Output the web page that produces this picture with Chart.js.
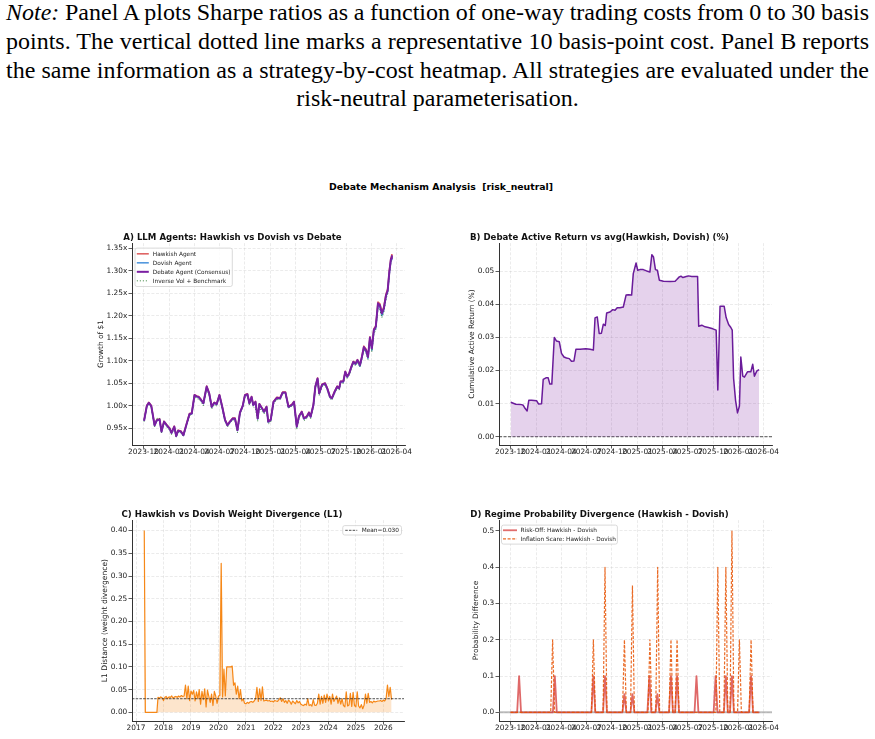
<!DOCTYPE html>
<html><head><meta charset="utf-8">
<script src="https://cdn.jsdelivr.net/npm/chart.js@4.4.1/dist/chart.umd.min.js"></script>
<style>
html,body{margin:0;padding:0;background:#fff;overflow:hidden;width:875px;height:739px;}
.nl{position:absolute;white-space:nowrap;line-height:29px;height:29px;font-family:'Liberation Serif','Times New Roman','DejaVu Serif','Noto Serif',serif;font-size:24px;color:#000;}
#sup{position:absolute;left:0;width:882px;top:181px;text-align:center;font:bold 9.3px "DejaVu Sans",sans-serif;white-space:pre;color:#000;line-height:12px;}
canvas{position:absolute;}
</style></head>
<body>
<span class="nl" id="n1" style="left:6px;top:-2px"><i>Note:</i> Panel A plots Sharpe ratios as a function of one-way trading costs from 0 to 30 basis</span>
<span class="nl" id="n2" style="left:6px;top:27px">points. The vertical dotted line marks a representative 10 basis-point cost. Panel B reports</span>
<span class="nl" id="n3" style="left:6px;top:56px">the same information as a strategy-by-cost heatmap. All strategies are evaluated under the</span>
<span class="nl" id="n4" style="left:0;width:875px;text-align:center;top:84px">risk-neutral parameterisation.</span>
<div id="sup">Debate Mechanism Analysis  [risk_neutral]</div>
<canvas id="cA" width="417" height="248" style="left:60px;top:227px"></canvas>
<canvas id="cB" width="417" height="248" style="left:427px;top:227px"></canvas>
<canvas id="cC" width="416" height="235" style="left:60px;top:504px"></canvas>
<canvas id="cD" width="417" height="235" style="left:427px;top:504px"></canvas>
<script>
// ---------------- DATA ----------------
const quarterTickDays = [0,92,183,274,366,458,548,639,731,823,913]; // days since 2023-10-01
const quarterTickLabels = ['2023-10','2024-01','2024-04','2024-07','2024-10','2025-01','2025-04','2025-07','2025-10','2026-01','2026-04'];
const yearTicks = [2017,2018,2019,2020,2021,2022,2023,2024,2025,2026];
const growthTicks = [0.95,1.00,1.05,1.10,1.15,1.20,1.25,1.30,1.35];
const activeTicks = [0,0.01,0.02,0.03,0.04,0.05];
const l1Ticks = [0,0.05,0.10,0.15,0.20,0.25,0.30,0.35,0.40];
const probTicks = [0,0.1,0.2,0.3,0.4,0.5];

// Panel A
const aDays = [2,12,19,28,40,48,58,65,74,84, 94,101,111,118,125,135,144,156,166,174,
 184,192,199,208,216,228,237,246,255,264, 274,284,294,303,312,322,330,339,348,358,
 366,375,382,390,396,404,412,418,428,435, 444,450,459,469,481,493,502,512,523,535,
 543,553,561,571,579,589,597,603,613,620, 628,634,644,655,663,673,680,690,699,706,
 711,721,728,735,742,750,757,765,772,781, 788,795,803,810,817,824,831,838,846,853,
 860,867,875,881,887,893,896];
const hawkish = [0.968,1.001,1.008,1.001,0.958,0.969,0.971,0.944,0.966,0.958,
 0.951,0.941,0.955,0.934,0.946,0.944,0.936,0.962,0.983,0.984,
 1.025,1.022,1.021,1.014,1.007,1.044,1.029,0.999,1.008,1.005,
 1.025,0.999,0.970,0.958,0.966,0.973,0.973,0.947,0.986,1.001,
 1.025,1.027,1.007,1.021,1.003,1.010,0.973,1.005,0.995,0.988,
 0.999,0.966,0.970,1.010,1.019,1.018,1.031,1.031,0.999,1.003,
 1.010,0.955,0.978,0.988,0.973,0.977,0.986,0.977,1.003,1.044,
 1.062,1.029,1.048,1.051,1.040,1.021,1.018,1.033,1.044,1.040,
 1.055,1.055,1.077,1.066,1.073,1.088,1.099,1.095,1.103,1.092,
 1.110,1.133,1.126,1.111,1.154,1.130,1.171,1.178,1.231,1.227,
 1.209,1.220,1.249,1.260,1.301,1.331,1.338];
const dovish = [0.966,0.999,1.006,0.999,0.956,0.967,0.969,0.942,0.964,0.956,
 0.949,0.939,0.953,0.932,0.944,0.942,0.934,0.960,0.981,0.982,
 1.023,1.020,1.019,1.012,1.005,1.042,1.027,0.997,1.006,1.003,
 1.023,0.997,0.968,0.956,0.964,0.971,0.971,0.945,0.984,0.999,
 1.023,1.025,1.005,1.019,1.001,1.008,0.971,1.003,0.993,0.986,
 0.997,0.964,0.968,1.008,1.017,1.016,1.029,1.029,0.997,1.001,
 1.008,0.953,0.976,0.986,0.971,0.975,0.984,0.975,1.001,1.042,
 1.060,1.027,1.046,1.049,1.038,1.019,1.016,1.031,1.042,1.038,
 1.053,1.053,1.075,1.064,1.071,1.086,1.097,1.092,1.100,1.088,
 1.107,1.128,1.121,1.106,1.149,1.124,1.166,1.173,1.224,1.220,
 1.201,1.213,1.243,1.254,1.295,1.325,1.332];
const debate = [0.967,1.000,1.007,1.000,0.957,0.968,0.970,0.943,0.965,0.957,
 0.950,0.940,0.954,0.933,0.945,0.943,0.935,0.961,0.982,0.983,
 1.024,1.021,1.020,1.013,1.006,1.043,1.028,0.998,1.007,1.004,
 1.024,0.998,0.969,0.957,0.965,0.972,0.972,0.946,0.985,1.000,
 1.024,1.026,1.006,1.020,1.002,1.009,0.972,1.004,0.994,0.987,
 0.998,0.965,0.969,1.009,1.018,1.017,1.030,1.030,0.998,1.002,
 1.009,0.954,0.977,0.987,0.972,0.976,0.985,0.976,1.002,1.043,
 1.061,1.028,1.047,1.050,1.039,1.020,1.017,1.032,1.043,1.039,
 1.054,1.054,1.076,1.065,1.072,1.087,1.098,1.094,1.102,1.091,
 1.109,1.131,1.124,1.109,1.152,1.128,1.169,1.176,1.228,1.224,
 1.206,1.217,1.246,1.257,1.298,1.328,1.335];
const benchmark = [0.965,0.998,1.004,0.997,0.953,0.972,0.973,0.940,0.962,0.953,
 0.946,0.936,0.950,0.930,0.941,0.940,0.932,0.958,0.979,0.980,
 1.020,1.016,1.015,1.009,1.000,1.038,1.023,0.993,1.002,1.000,
 1.020,0.994,0.965,0.953,0.962,0.969,0.969,0.940,0.981,0.997,
 1.020,1.022,1.002,1.015,0.998,0.993,0.966,0.995,0.988,0.982,
 0.993,0.960,0.964,1.004,1.014,1.014,1.027,1.027,0.995,0.999,
 1.005,0.948,0.972,0.983,0.967,0.972,0.981,0.972,0.998,1.038,
 1.056,1.023,1.043,1.046,1.035,1.016,1.013,1.028,1.039,1.035,
 1.050,1.050,1.071,1.061,1.068,1.082,1.094,1.089,1.097,1.086,
 1.104,1.125,1.118,1.103,1.145,1.120,1.160,1.168,1.218,1.213,
 1.196,1.208,1.238,1.250,1.290,1.320,1.328];

// Panel B
const bDays = [1,10,19,40,46,53,60,66,76,94, 101,112,118,128,136,142,149,158,166,176,
 184,193,202,212,220,229,236,251,272,287, 299,305,313,320,328,335,342,347,359,369,
 377,385,395,407,417,425,437,443,453,459, 467,479,491,503,510,516,523,530,537,552,
 576,594,600,609,615,622,634,642,654,675, 679,690,702,714,730,742,748,756,771,778,
 787,795,800,805,812,819,826,831,838,844, 855,867,874,880,889,897];
const activeReturn = [0.0104,0.0101,0.0098,0.0097,0.0095,0.0085,0.0078,0.0110,0.0110,0.0109,
 0.0099,0.0100,0.0173,0.0178,0.0178,0.0159,0.0159,0.0300,0.0289,0.0287,
 0.0252,0.0241,0.0238,0.0236,0.0228,0.0229,0.0264,0.0264,0.0266,0.0264,
 0.0262,0.0359,0.0362,0.0312,0.0313,0.0340,0.0336,0.0374,0.0377,0.0384,
 0.0382,0.0390,0.0390,0.0392,0.0428,0.0429,0.0428,0.0493,0.0525,0.0503,
 0.0505,0.0505,0.0501,0.0498,0.0550,0.0543,0.0505,0.0503,0.0473,0.0470,
 0.0469,0.0470,0.0475,0.0483,0.0485,0.0481,0.0484,0.0486,0.0484,0.0484,
 0.0334,0.0337,0.0332,0.0330,0.0326,0.0322,0.0141,0.0394,0.0394,0.0360,
 0.0339,0.0330,0.0322,0.0176,0.0110,0.0072,0.0093,0.0241,0.0183,0.0180,
 0.0196,0.0196,0.0219,0.0183,0.0199,0.0203];

// Panel C (L1 divergence): lead-in points, then regular samples every 0.05 yr from 2017.80
const l1LeadYears = [2017.30,2017.34,2017.76];
const l1LeadValues = [0.400,0.000,0.000];
const l1StartYear = 2017.80, l1StepYear = 0.05;
const l1Values = [0.033,0.031,0.034,0.032,0.026,0.033,0.035,0.030,0.034,0.033,0.036,0.031,0.034,0.035,0.033,0.036,0.034,0.037,0.035,0.036,
 0.060,0.030,0.058,0.026,0.047,0.040,
 0.048,0.025,0.045,0.030,0.050,0.018,0.046,0.028,0.052,0.012,0.049,0.035,0.022,0.040,0.015,0.046,
 0.036,0.020,0.036,0.037,0.328,0.034,0.095,0.036,0.100,0.100,0.100,0.100,0.102,0.060,0.065,0.040,0.058,0.030,0.050,0.025,0.030,0.020,
 0.019,0.022,0.020,0.023,0.024,0.022,0.025,
 0.030,0.055,0.024,0.052,0.026,0.056,0.025,
 0.026,0.027,0.025,0.026,0.024,0.025,0.023,0.026,0.025,0.024,
 0.028,0.032,0.024,0.030,0.022,0.026,0.020,0.027,0.024,0.018,0.025,0.022,0.019,0.026,0.021,0.024,0.018,
 0.016,0.015,0.018,0.016,0.030,0.015,0.017,0.014,0.028,0.016,0.015,0.020,
 0.040,0.018,0.035,0.020,0.038,0.022,0.040,0.025,0.035,0.018,0.040,0.024,0.030,0.036,0.020,0.032,0.018,0.030,
 0.015,0.012,0.045,0.014,0.016,0.042,0.013,0.044,0.015,0.012,0.045,0.014,0.010,0.017,0.008,0.016,
 0.040,0.020,0.042,0.022,0.024,0.021,0.025,0.023,0.024,0.025,
 0.025,0.026,0.024,0.027,0.025,0.030,
 0.060,0.035,0.055,0.028];
const l1Mean = 0.030;

// Panel D
const riskOffDays = [0,24,31,38,153,160,167,292,299,306,334,341,348,404,411,418,433,440,447,494,501,508,523,530,537,572,579,586,594,601,608,664,671,678,733,740,747,770,777,784,792,799,806,861,868,875,898];
const riskOffValues = [0,0,0.1,0,0,0.1,0,0,0.1,0,0,0.1,0,0,0.05,0,0,0.05,0,0,0.1,0,0,0.05,0,0,0.1,0,0,0.1,0,0,0.1,0,0,0.1,0,0,0.1,0,0,0.1,0,0,0.1,0,0];
const inflationDays = [0,145,152,159,292,299,306,334,341,348,404,411,418,433,440,447,496,503,510,524,531,538,572,579,586,594,601,608,741,748,755,770,777,784,792,799,806,819,826,833,861,868,875,898];
const inflationValues = [0,0,0.2,0,0,0.2,0,0,0.4,0,0,0.2,0,0,0.35,0,0,0.2,0,0,0.4,0,0,0.2,0,0,0.2,0,0,0.4,0,0,0.4,0,0,0.5,0,0,0.2,0,0,0.2,0,0];

// ---------------- HELPERS ----------------
const FF = "'DejaVu Sans', sans-serif";
const TICK = 7.4;
const pts = (xs, ys) => xs.map((x, i) => ({x, y: ys[i]}));
const l1Years = l1LeadYears.concat(l1Values.map((v, i) => +(l1StartYear + i * l1StepYear).toFixed(2)));
const l1All = l1LeadValues.concat(l1Values);

const legends = {
  cA: {side:'left', inset:3, insetTop:5, padX:1.8, padY:1.2, rowH:9, sampleW:12, gap:4, items:[
    {label:'Hawkish Agent', color:'rgba(211,47,47,0.8)', width:1.5},
    {label:'Dovish Agent', color:'rgba(25,118,210,0.8)', width:1.5},
    {label:'Debate Agent (Consensus)', color:'#7b1fa2', width:2},
    {label:'Inverse Vol + Benchmark', color:'rgba(46,125,50,0.8)', width:1, dash:[1.2,1.8]}]},
  cC: {side:'right', inset:2.5, insetTop:5.5, padX:2.5, padY:0.2, rowH:9, sampleW:12, gap:4.5, items:[
    {label:'Mean=0.030', color:'#222', width:0.8, dash:[2.5,1.2]}]},
  cD: {side:'left', inset:2.5, insetTop:5, padX:1.5, padY:0.8, rowH:8.7, sampleW:14, gap:3.5, items:[
    {label:'Risk-Off: Hawkish - Dovish', color:'rgba(211,47,47,0.7)', width:1.8},
    {label:'Inflation Scare: Hawkish - Dovish', color:'rgba(230,81,0,0.85)', width:1.2, dash:[3,1.6]}]}
};

const boxLegend = {
  id: 'boxLegend',
  afterDatasetsDraw(chart) {
    const o = legends[chart.canvas.id];
    if (!o) return;
    const ctx = chart.ctx, a = chart.chartArea;
    ctx.save();
    ctx.font = '5.8px ' + FF;
    const tw = Math.max(...o.items.map(it => ctx.measureText(it.label).width));
    const w = o.padX * 2 + o.sampleW + o.gap + tw;
    const h = o.padY * 2 + o.rowH * o.items.length;
    const x = o.side === 'right' ? a.right - o.inset - w : a.left + o.inset;
    const y = a.top + o.insetTop;
    ctx.beginPath();
    ctx.roundRect(x, y, w, h, 2);
    ctx.fillStyle = 'rgba(255,255,255,0.85)';
    ctx.fill();
    ctx.lineWidth = 0.8;
    ctx.strokeStyle = '#d0d0d0';
    ctx.stroke();
    o.items.forEach((it, i) => {
      const cy = y + o.padY + o.rowH * (i + 0.5);
      ctx.beginPath();
      ctx.setLineDash(it.dash || []);
      ctx.lineWidth = it.width;
      ctx.strokeStyle = it.color;
      ctx.moveTo(x + o.padX, cy);
      ctx.lineTo(x + o.padX + o.sampleW, cy);
      ctx.stroke();
      ctx.setLineDash([]);
      ctx.fillStyle = '#222';
      ctx.textBaseline = 'middle';
      ctx.textAlign = 'left';
      ctx.fillText(it.label, x + o.padX + o.sampleW + o.gap, cy + 0.3);
    });
    ctx.restore();
  }
};
Chart.register(boxLegend);

function gridCfg() {
  return {color:'rgba(176,176,176,0.32)', lineWidth:0.8, drawTicks:true, tickLength:3.5,
          tickColor:'#333', tickWidth:0.8, tickBorderDash:[]};
}
function borderCfg() { return {display:true, color:'#333', width:1, dash:[3,1.6]}; }

function xAxis(min, max, ticks, labelFn, h) {
  return {type:'linear', min, max,
    afterBuildTicks: s => { s.ticks = ticks.map(v => ({value:v})); },
    afterFit: s => { s.height = h; },
    ticks:{autoSkip:false, maxRotation:0, minRotation:0, padding:0, color:'#222',
           font:{family:FF, size:TICK, lineHeight:1}, callback: v => labelFn(v)},
    grid: gridCfg(), border: borderCfg()};
}
function yAxis(min, max, ticks, fmt, w, title, tSize, tPad) {
  return {type:'linear', min, max,
    afterBuildTicks: s => { s.ticks = ticks.map(v => ({value:v})); },
    afterFit: s => { s.width = w; },
    ticks:{padding:1.2, color:'#222', font:{family:FF, size:TICK, lineHeight:1}, callback: v => fmt(v)},
    title:{display:true, text:title, color:'#222', font:{family:FF, size:tSize, lineHeight:1.2}, padding:{top:tPad, bottom:0}},
    grid: gridCfg(), border: borderCfg()};
}
function makeChart(id, datasets, xa, ya, title, padRight, padBottom) {
  return new Chart(document.getElementById(id), {
    type:'line',
    data:{datasets},
    options:{
      responsive:false, animation:false, events:[],
      layout:{padding:{left:0, right:padRight, top:0, bottom:padBottom}},
      elements:{point:{radius:0, hoverRadius:0}, line:{tension:0, borderJoinStyle:'round', borderCapStyle:'butt'}},
      scales:{x:xa, y:ya},
      plugins:{legend:{display:false}, tooltip:{enabled:false},
        title:{display:true, text:title, color:'#111', font:{family:FF, size:8.6, weight:'bold', lineHeight:1.2}, padding:{top:5.8, bottom:0}}}
    }
  });
}
const qLabel = v => { const i = quarterTickDays.indexOf(v); return i >= 0 ? quarterTickLabels[i] : ''; };
const QMIN = -41.5, QMAX = 943.5;

// ---------------- PANEL A ----------------
makeChart('cA', [
  {data:pts(aDays, debate), borderColor:'#7b1fa2', borderWidth:2, order:0},
  {data:pts(aDays, benchmark), borderColor:'rgba(46,125,50,0.85)', borderWidth:1, borderDash:[1.2,1.8], order:1},
  {data:pts(aDays, dovish), borderColor:'rgba(25,118,210,0.8)', borderWidth:1.5, order:2},
  {data:pts(aDays, hawkish), borderColor:'rgba(211,47,47,0.8)', borderWidth:1.5, order:3}
], xAxis(QMIN, QMAX, quarterTickDays, qLabel, 30),
   yAxis(0.913, 1.362, growthTicks, v => v.toFixed(2) + 'x', 72, 'Growth of $1', 7.4, 36.3),
   'A) LLM Agents: Hawkish vs Dovish vs Debate', 72, 0);

// ---------------- PANEL B ----------------
makeChart('cB', [
  {data:pts(bDays, activeReturn), borderColor:'#6a1b9a', borderWidth:1.5, fill:'origin', backgroundColor:'rgba(123,31,162,0.2)', order:0},
  {data:[{x:QMIN, y:0}, {x:QMAX, y:0}], borderColor:'#222', borderWidth:0.8, borderDash:[3,1.5], order:1}
], xAxis(QMIN, QMAX, quarterTickDays, qLabel, 30),
   yAxis(-0.0025, 0.0585, activeTicks, v => v.toFixed(2), 72, 'Cumulative Active Return (%)', 7.4, 40.3),
   'B) Debate Active Return vs avg(Hawkish, Dovish) (%)', 72, 0);

// ---------------- PANEL C ----------------
makeChart('cC', [
  {data:[{x:2016.854, y:l1Mean}, {x:2026.752, y:l1Mean}], borderColor:'#222', borderWidth:0.8, borderDash:[2.5,1.2], order:0},
  {data:pts(l1Years, l1All), borderColor:'rgba(245,124,0,0.9)', borderWidth:1.2, fill:'origin', backgroundColor:'rgba(245,124,0,0.2)', order:1}
], xAxis(2016.854, 2026.752, yearTicks, v => String(v), 18),
   yAxis(-0.019, 0.423, l1Ticks, v => v.toFixed(2), 72, 'L1 Distance (weight divergence)', 7.6, 40.4),
   'C) Hawkish vs Dovish Weight Divergence (L1)', 72, 0);

// ---------------- PANEL D ----------------
makeChart('cD', [
  {data:pts(inflationDays, inflationValues), borderColor:'rgba(230,81,0,0.85)', borderWidth:1.2, borderDash:[3,1.6], order:0},
  {data:pts(riskOffDays, riskOffValues), borderColor:'rgba(211,47,47,0.72)', borderWidth:1.8, order:1},
  {data:[{x:QMIN, y:0}, {x:QMAX, y:0}], borderColor:'rgba(128,128,128,0.5)', borderWidth:2, order:2}
], xAxis(QMIN, QMAX, quarterTickDays, qLabel, 18),
   yAxis(-0.024, 0.53, probTicks, v => v.toFixed(1), 72, 'Probability Difference', 7.4, 44.3),
   'D) Regime Probability Divergence (Hawkish - Dovish)', 72, 0);

// ---------------- NOTE JUSTIFICATION ----------------
['n1','n2','n3'].forEach(id => {
  const el = document.getElementById(id);
  const w = el.getBoundingClientRect().width;
  const spaces = (el.textContent.match(/ /g) || []).length;
  el.style.wordSpacing = ((863 - w) / spaces) + 'px';
});
</script>
</body></html>
